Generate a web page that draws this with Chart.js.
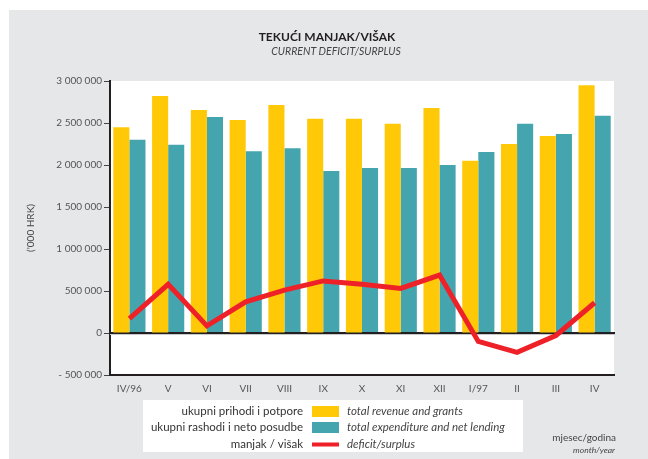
<!DOCTYPE html>
<html>
<head>
<meta charset="utf-8">
<script src="https://cdn.jsdelivr.net/npm/chart.js@4.4.0/dist/chart.umd.min.js"></script>
<style>
body { margin: 0; background: #fff; }
#box { width: 648px; height: 459px; }
</style>
</head>
<body>
<div id="box"><canvas id="myChart" width="648" height="459"></canvas></div>
<script>
'use strict';
let months = ['IV/96', 'V', 'VI', 'VII', 'VIII', 'IX', 'X', 'XI', 'XII', 'I/97', 'II', 'III', 'IV'];
let revenue = [2450000, 2820000, 2655000, 2535000, 2715000, 2550000, 2550000, 2490000, 2680000, 2050000, 2250000, 2345000, 2950000];
let expenditure = [2300000, 2240000, 2570000, 2165000, 2200000, 1930000, 1965000, 1965000, 2000000, 2155000, 2490000, 2370000, 2585000];
let deficit = [170000, 580000, 85000, 370000, 510000, 620000, 580000, 530000, 690000, -100000, -230000, -30000, 360000];

let yTicks = [-500000, 0, 500000, 1000000, 1500000, 2000000, 2500000, 3000000];

let legendHr = ['ukupni prihodi i potpore', 'ukupni rashodi i neto posudbe', 'manjak / višak'];
let legendEn = ['total revenue and grants', 'total expenditure and net lending', 'deficit/surplus'];

let yellow = '#ffc908';
let teal = '#45a5ae';
let red = '#ee2128';
let dark = '#231f20';
let grey = '#e6e7e9';
let font = 'Lato, "Open Sans", sans-serif';

function formatNum(v) {
    let s = Math.abs(v).toString().replace(/\B(?=(\d{3})+(?!\d))/g, ' ');
    return v < 0 ? '- ' + s : s;
}

// background, white plot area, titles and legend
let decor = {
    id: 'decor',
    beforeDraw(chart) {
        let ctx = chart.ctx;
        let a = chart.chartArea;
        ctx.save();
        ctx.fillStyle = grey;
        ctx.fillRect(9, 10, 639, 449);
        ctx.fillStyle = '#fff';
        ctx.fillRect(a.left, a.top, a.right - a.left, a.bottom - a.top);
        ctx.restore();
    },
    afterDatasetDraw(chart, args) {
        if (args.index !== 1) return;
        let ctx = chart.ctx;
        let a = chart.chartArea;
        let y0 = chart.scales.y.getPixelForValue(0);
        ctx.save();
        ctx.fillStyle = dark;
        ctx.fillRect(a.left, y0 - 1, a.right - a.left + 1, 2);
        ctx.fillStyle = '#c8c9cb';
        ctx.fillRect(a.left, y0 + 1, a.right - a.left + 1, 1);
        ctx.restore();
    },
    afterDraw(chart) {
        let ctx = chart.ctx;
        ctx.save();
        ctx.textBaseline = 'middle';
        ctx.textAlign = 'center';
        ctx.fillStyle = dark;
        ctx.font = 'bold 12px ' + font;
        ctx.fillText('TEKUĆI MANJAK/VIŠAK', 327, 37);
        ctx.fillStyle = '#444';
        ctx.font = 'italic 10.5px ' + font;
        ctx.fillText('CURRENT DEFICIT/SURPLUS', 336, 52);

        // y axis title
        ctx.save();
        ctx.translate(31, 228);
        ctx.rotate(-Math.PI / 2);
        ctx.font = '10px ' + font;
        ctx.fillStyle = '#444';
        ctx.fillText("('000 HRK)", 0, 0);
        ctx.restore();

        // legend box
        ctx.fillStyle = '#fff';
        ctx.fillRect(143, 400, 380, 52);
        let rows = [411.5, 427.5, 444.5];
        let colors = [yellow, teal, red];
        for (let i = 0; i < rows.length; i++) {
            ctx.textAlign = 'right';
            ctx.fillStyle = '#333';
            ctx.font = '11.5px ' + font;
            ctx.fillText(legendHr[i], 303, rows[i]);
            ctx.fillStyle = colors[i];
            if (i < 2) {
                ctx.fillRect(312, rows[i] - 5.5, 27, 11);
            } else {
                ctx.fillRect(312, rows[i] - 2, 27, 4);
            }
            ctx.textAlign = 'left';
            ctx.fillStyle = '#444';
            ctx.font = 'italic 11.5px ' + font;
            ctx.fillText(legendEn[i], 347, rows[i]);
        }

        ctx.textAlign = 'right';
        ctx.fillStyle = '#444';
        ctx.font = '10px ' + font;
        ctx.fillText('mjesec/godina', 616, 438);
        ctx.font = 'italic 8.5px ' + font;
        ctx.fillText('month/year', 615, 450);
        ctx.restore();
    }
};

let ctx = document.getElementById('myChart').getContext('2d');
let chart = new Chart(ctx, {
    type: 'bar',
    data: {
        labels: months,
        datasets: [{
            label: 'total revenue and grants',
            data: revenue,
            backgroundColor: yellow,
            categoryPercentage: 0.83,
            barPercentage: 1,
            order: 2
        }, {
            label: 'total expenditure and net lending',
            data: expenditure,
            backgroundColor: teal,
            categoryPercentage: 0.83,
            barPercentage: 1,
            order: 2
        }, {
            type: 'line',
            label: 'deficit/surplus',
            data: deficit,
            borderColor: red,
            borderWidth: 5,
            tension: 0,
            pointRadius: 0,
            fill: false,
            order: 1
        }]
    },
    options: {
        responsive: false,
        animation: false,
        layout: { padding: { left: 0, right: 34, top: 81, bottom: 59 } },
        plugins: {
            legend: { display: false },
            title: { display: false },
            tooltip: { enabled: false }
        },
        scales: {
            x: {
                afterFit(scale) { scale.height = 25; },
                grid: { drawOnChartArea: false, drawTicks: false },
                border: { color: dark, width: 2 },
                ticks: { color: '#555', font: { family: font, size: 10 }, padding: 8 }
            },
            y: {
                min: -500000,
                max: 3000000,
                afterFit(scale) { scale.width = 110; },
                afterBuildTicks(scale) { scale.ticks = yTicks.map(v => ({ value: v })); },
                grid: { drawOnChartArea: false, drawTicks: true, tickLength: 6, tickColor: '#444', tickWidth: 1 },
                border: { color: dark, width: 2 },
                ticks: {
                    color: '#555',
                    font: { family: font, size: 10 },
                    padding: 2,
                    callback: v => formatNum(v)
                }
            }
        }
    },
    plugins: [decor]
});
</script>
</body>
</html>
